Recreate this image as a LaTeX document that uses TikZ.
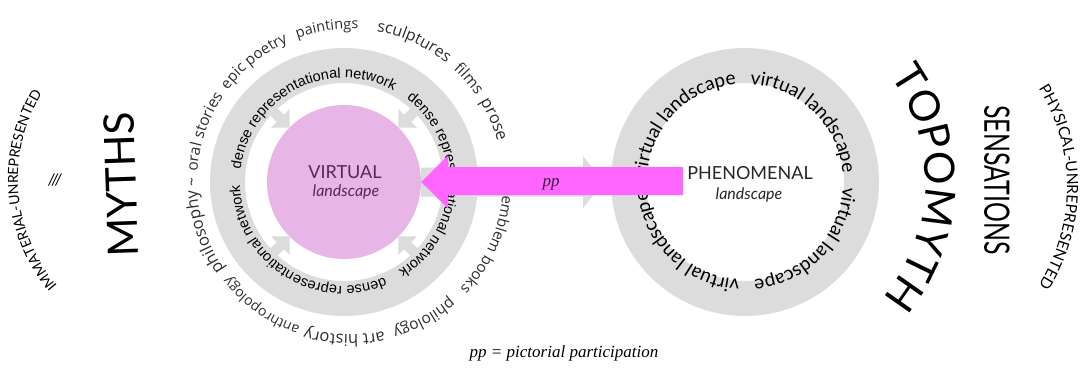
\documentclass[tikz,border=0pt]{standalone}
\usepackage{fontspec}
\usepackage{graphicx}
\usetikzlibrary{decorations.text}
\setmainfont{Lato}
\newfontfamily\ringsans{Liberation Sans}
\newfontfamily\wordsans{Open Sans}
\newfontfamily\serifit{Liberation Serif}
\definecolor{ringgray}{HTML}{DCDCDC}
\definecolor{diskpink}{HTML}{E8B6E6}
\definecolor{pinkarrow}{HTML}{FF66FF}
\definecolor{plum}{HTML}{55285A}
\definecolor{wordgray}{HTML}{2E2E2E}
% text set along a clockwise arc: centre, radius, centre angle, half span, format, text
\newcommand\arctext[6]{%
  \path[decorate,decoration={text along path,text align=center,
    text={|#5|#6}}]
    (#1) ++({#3+#4}:#2) arc[start angle={#3+#4},end angle={#3-#4},radius=#2];}
% text starting at a given angle and running clockwise
\newcommand\arcstart[5]{%
  \path[decorate,decoration={text along path,text align=left,
    text={|#4|#5}}]
    (#1) ++(#3:#2) arc[start angle=#3,end angle={#3-125},radius=#2];}
\newcommand\wf[1]{\wordsans\fontsize{#1}{#1}\selectfont\color{wordgray}}
\newcommand\densefmt{\ringsans\fontsize{14.5}{17}\selectfont\color{black}}
\newcommand\vlfmt{\fontsize{19}{22}\selectfont\color{black}}
\tikzset{
  inlabel/.style={inner sep=0pt, anchor=base},
}
\begin{document}
\begin{tikzpicture}[x=1pt,y=1pt]
\useasboundingbox (0,0) rectangle (1082,381);
\fill[white] (0,0) rectangle (1082,381);
\coordinate (L) at (344,199);
\coordinate (R) at (745,199);
\coordinate (W) at (350,199);

% short grey arrows pointing in to the virtual landscape
\foreach \a in {45,135,225,315}{
  \fill[ringgray, shift={(L)}, rotate=\a]
    (77,0) -- (90,13) -- (90,5) -- (110,5) -- (110,-5) -- (90,-5) -- (90,-13) -- cycle;
}
% grey arrow towards the phenomenal ring
\fill[ringgray] (421,184.5) -- (583,184.5) -- (583,173) -- (604,199)
  -- (583,225) -- (583,213.5) -- (421,213.5) -- cycle;

% the two rings
\draw[ringgray, line width=35pt] (L) circle[radius=116.5];
\draw[ringgray, line width=35pt] (R) circle[radius=116.5];

% virtual landscape disk
\node[circle, fill=diskpink, minimum size=154pt, inner sep=0pt] (vdisk) at (L) {};
\node[inlabel, font=\fontsize{18}{20}\selectfont, text=plum] (virt) at (345,203) {VIRTUAL};
\node[inlabel, font=\fontsize{16}{19}\selectfont\itshape, text=plum] (virtl) at (346,185) {landscape};

% phenomenal landscape
\node[inlabel, font=\fontsize{18}{20}\selectfont, text=black!85] (phen) at (750,202) {PHENOMENAL};
\node[inlabel, font=\fontsize{16}{19}\selectfont\itshape, text=black!85] (phenl) at (749,182) {landscape};

% dense representational network, three times round the left ring
\arcstart{L}{104}{173}{\densefmt}{dense representational network}
\arcstart{L}{104}{53}{\densefmt}{dense representational network}
\arcstart{L}{104}{-67}{\densefmt}{dense representational network}

% virtual landscape, four times round the right ring
\foreach \s in {177,87,-3,-93}{
  \path[decorate,decoration={text along path,text align=left,
    text={|\vlfmt|virtual landscape}}]
    (R) ++(\s:98) arc[start angle=\s,end angle={\s-92},radius=98];
}

% media of representation round the left ring
\arctext{W}{153}{161}{40}{\wf{15.5}}{oral stories}
\arctext{W}{153}{180}{20}{\wf{15.5}}{{\textasciitilde}}
\arctext{W}{153}{199}{40}{\wf{16.5}}{philosophy}
\arctext{W}{153}{234.5}{40}{\wf{14}}{anthropology}
\arctext{W}{153}{268}{40}{\wf{16.5}}{art history}
\arctext{W}{153}{298.5}{40}{\wf{15.5}}{philology}
\arctext{W}{153}{335.5}{40}{\wf{15}}{emblem books}
\arctext{W}{153}{23.5}{40}{\wf{16.5}}{prose}
\arctext{W}{153}{41}{40}{\wf{15.5}}{films}
\arctext{W}{153}{65.5}{40}{\wf{16}}{sculptures}
\arctext{W}{153}{98.5}{40}{\wf{14.5}}{paintings}
\arctext{W}{153}{128.5}{40}{\wf{15}}{epic poetry}

% pictorial participation arrow
\fill[pinkarrow] (vdisk.east) -- (448,225.5) -- (448,214) -- (683,214)
  -- (683,186) -- (448,186) -- (448,172.5) -- cycle;
\node[inlabel, font=\serifit\itshape\fontsize{17}{20}\selectfont, text=plum!70!black] (pp) at (551,195) {pp};

% side headings
\node[font=\fontsize{42}{46}\selectfont, rotate=92, inner sep=0pt] (myths) at (121,196) {MYTHS};
\coordinate (T) at (745,199);
\arctext{T}{180}{-2}{60}{\fontsize{42}{46}\selectfont}{TOPOMYTH}
\node[rotate=-90, inner sep=0pt, font=\fontsize{35}{40}\selectfont] (sens) at (997,201) {\scalebox{0.71}[1]{SENSATIONS}};
\coordinate (I) at (183,202);
\arctext{I}{165}{184.5}{45}{\fontsize{14}{16}\selectfont}{IMMATERIAL-UNREPRESENTED}
\coordinate (P) at (884,194);
\arctext{P}{183}{0}{45}{\fontsize{15.5}{18}\selectfont}{PHYSICAL-UNREPRESENTED}
\node[font=\fontsize{16}{18}\selectfont\itshape, inner sep=0pt] (slashes) at (55,201) {///};

% key
\node[inlabel, font=\serifit\itshape\fontsize{17}{20}\selectfont] (key) at (564,24) {pp = pictorial participation};
\end{tikzpicture}
\end{document}
